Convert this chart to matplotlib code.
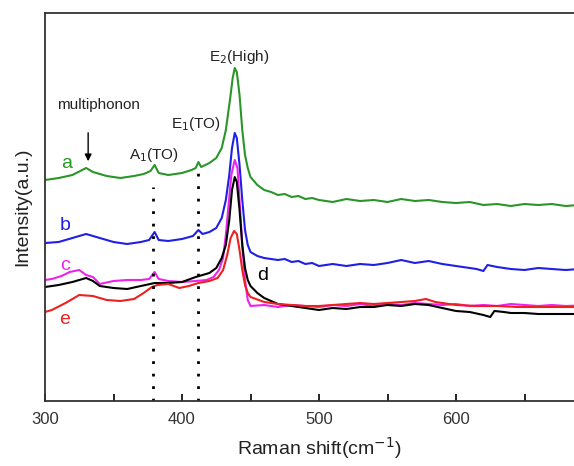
import numpy as np
import matplotlib.pyplot as plt

plt.rcParams['font.family'] = ['Liberation Sans', 'DejaVu Sans']

# Raman spectra, intensity in arbitrary units (offset stacked)
x_a = [300, 310, 320, 330, 335, 345, 355, 365, 372, 377, 380, 383, 390, 400, 407, 410, 412, 414, 420, 425,
       429, 432, 435, 437, 438.5, 440, 442, 444, 446, 448, 450, 455, 460, 465, 470, 475, 480, 485, 490, 495,
       500, 510, 520, 530, 540, 550, 560, 570, 580, 590, 600, 610, 620, 630, 640, 650, 660, 670, 680, 690, 700]
y_a = [221, 223, 226, 233, 229, 225, 223, 225, 227, 230, 236, 228, 226, 228, 231, 233, 239, 234, 238, 243,
       253, 271, 301, 323, 333, 329, 306, 271, 246, 233, 224, 216, 211, 209, 206, 207, 204, 205, 202, 203,
       201, 199, 202, 200, 201, 199, 202, 200, 201, 199, 198, 199, 196, 197, 195, 197, 196, 197, 195, 196, 196]

x_b = [300, 310, 320, 330, 340, 350, 360, 370, 376, 380, 383, 390, 400, 408, 412, 415, 420, 425, 429, 432,
       434.5, 436.5, 438.5, 440, 442, 444, 446, 448, 450, 455, 460, 465, 470, 475, 480, 485, 490, 495, 500,
       510, 520, 530, 540, 550, 560, 570, 580, 590, 600, 610, 615, 620, 623, 630, 640, 650, 660, 670, 680,
       690, 700]
y_b = [158, 159, 163, 167, 163, 159, 157, 159, 161, 169, 161, 160, 162, 165, 171, 167, 169, 173, 183, 201,
       226, 253, 268, 263, 236, 201, 171, 156, 149, 145, 143, 142, 141, 142, 139, 140, 137, 138, 135,
       137, 135, 137, 136, 138, 141, 138, 140, 137, 135, 133, 132, 130, 136, 134, 132, 131, 133, 132, 131,
       132, 131]

x_c = [300, 305, 312, 318, 325, 330, 335, 340, 350, 360, 370, 376, 380, 383, 390, 400, 410, 418, 423, 427,
       430, 432, 434, 436, 438.5, 440.5, 442, 444, 446, 448, 450, 460, 470, 480, 490, 500, 510, 520, 530,
       540, 550, 560, 570, 580, 590, 600, 610, 620, 630, 640, 650, 660, 670, 680, 700]
y_c = [121, 122, 125, 129, 131, 126, 124, 117, 120, 121, 121, 122, 129, 122, 120, 119, 120, 121, 124, 131,
       143, 166, 196, 226, 241, 233, 201, 156, 121, 101, 95, 96, 94, 96, 95, 94, 96, 95, 97,
       95, 97, 96, 98, 97, 96, 97, 95, 96, 95, 97, 96, 95, 96, 95, 96]

x_d = [300, 310, 320, 330, 335, 340, 350, 360, 370, 380, 390, 400, 410, 415, 420, 425, 429, 432, 434.5, 436.5,
       438.5, 440, 442, 444, 446, 448, 450, 455, 460, 470, 480, 490, 500, 510, 520, 530, 540, 550, 560,
       570, 580, 590, 600, 610, 620, 625, 628, 635, 640, 650, 660, 680, 700]
y_d = [114, 116, 119, 123, 120, 115, 113, 112, 115, 118, 118, 119, 124, 126, 128, 133, 143, 156, 181, 211,
       224, 219, 191, 156, 133, 121, 115, 108, 103, 97, 95, 93, 91, 93, 92, 94, 94, 96, 95,
       97, 96, 93, 90, 89, 86, 84, 90, 89, 88, 88, 87, 87, 87]

x_e = [300, 305, 315, 325, 335, 345, 355, 365, 372, 378, 382, 390, 398, 405, 412, 420, 426, 430, 433, 435.5,
       438, 440, 442, 444, 446, 448, 450, 460, 470, 480, 490, 500, 510, 520, 530, 540, 550, 560, 570, 578,
       585, 600, 615, 630, 645, 660, 680, 700]
y_e = [89, 91, 98, 106, 105, 101, 100, 102, 108, 114, 116, 117, 113, 115, 118, 120, 123, 131, 146, 163,
       170, 167, 151, 131, 116, 108, 104, 99, 97, 96, 95, 95, 96, 97, 98, 97, 98, 99, 100, 102,
       99, 96, 95, 95, 94, 94, 94, 94]

series = [(x_a, y_a, '#2a962a'), (x_b, y_b, '#1f1fe6'), (x_c, y_c, '#ee22ee'),
          (x_d, y_d, 'black'), (x_e, y_e, '#ee2020')]

fig = plt.figure(figsize=(5.74, 4.66), dpi=100)
ax = fig.add_axes([45/574, 65/466, 548/574, 388/466])

for xs, ys, col in series:
    ax.plot(xs, ys, color=col, lw=1.5)

# mode positions
ax.plot([378.8, 378.8], [0, 214], ls=(0, (1, 3.5)), color='black', lw=2)
ax.plot([411.7, 411.7], [0, 236], ls=(0, (1, 3.5)), color='black', lw=2)

ax.text(339, 296, 'multiphonon', fontsize=11, ha='center', va='center', color='#222222')
ax.annotate('', xy=(331.5, 237), xytext=(331.5, 271),
            arrowprops=dict(arrowstyle='-|>', color='black', lw=1, mutation_scale=10))
ax.text(379.6, 246, r'A$_1$(TO)', fontsize=11, ha='center', va='center', color='#222222')
ax.text(410.2, 277, r'E$_1$(TO)', fontsize=11, ha='center', va='center', color='#222222')
ax.text(441.6, 344, r'E$_2$(High)', fontsize=11, ha='center', va='center', color='#222222')

ax.text(315.5, 238, 'a', fontsize=14, color='#2a962a', ha='center', va='center')
ax.text(314.5, 176, 'b', fontsize=14, color='#1f1fe6', ha='center', va='center')
ax.text(314.5, 135, 'c', fontsize=14, color='#ee22ee', ha='center', va='center')
ax.text(458.5, 125, 'd', fontsize=14, color='black', ha='center', va='center')
ax.text(314.5, 81, 'e', fontsize=14, color='#ee2020', ha='center', va='center')

ax.set_xlim(300, 700)
ax.set_ylim(0, 388)
ax.set_xticks([300, 400, 500, 600])
ax.set_xticks([350, 450, 550, 650], minor=True)
ax.set_yticks([])
ax.tick_params(axis='x', which='both', direction='in', length=5, width=1.2, labelsize=12, pad=8,
               labelcolor='#333333')
for s in ax.spines.values():
    s.set_linewidth(1.3)
    s.set_color('#333333')

ax.set_xlabel('Raman shift(cm$^{-1}$)', fontsize=14, color='#222222', labelpad=6)
ax.set_ylabel('Intensity(a.u.)', fontsize=14, color='#222222', labelpad=10)

fig.savefig('out.png', dpi=100)
